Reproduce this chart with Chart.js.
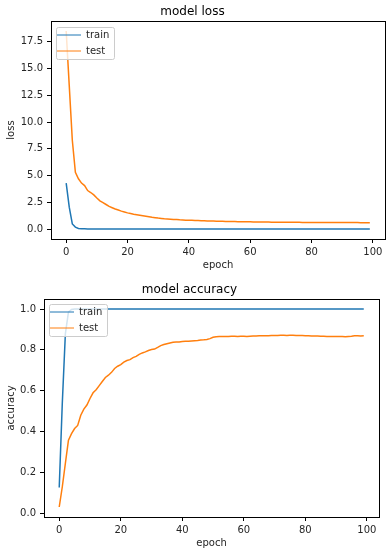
<!DOCTYPE html>
<html>
<head>
<meta charset="utf-8">
<script src="https://cdn.jsdelivr.net/npm/chart.js@4.4.1/dist/chart.umd.min.js"></script>
<style>
  html, body { margin: 0; padding: 0; background: #fff; }
  #wrap { position: relative; width: 386px; height: 554px; }
  canvas { position: absolute; left: 0; }
</style>
</head>
<body>
<div id="wrap">
  <canvas id="loss-chart" width="386" height="277" style="top:0"></canvas>
  <canvas id="acc-chart" width="386" height="277" style="top:277px"></canvas>
</div>
<script>
// epoch index 0..99
const epochs = Array.from({ length: 100 }, (_, i) => i);

const trainLoss = [
    4.3, 2.05, 0.49, 0.19, 0.07, 0.04, 0.03, 0.025, 0.02, 0.02,
    0.018, 0.016, 0.015, 0.014, 0.013, 0.012, 0.012, 0.011, 0.011, 0.01,
    0.01, 0.01, 0.01, 0.01, 0.01, 0.01, 0.01, 0.01, 0.01, 0.01,
    0.01, 0.01, 0.01, 0.01, 0.01, 0.01, 0.01, 0.01, 0.01, 0.01,
    0.01, 0.01, 0.01, 0.01, 0.01, 0.01, 0.01, 0.01, 0.01, 0.01,
    0.01, 0.01, 0.01, 0.01, 0.01, 0.01, 0.01, 0.01, 0.01, 0.01,
    0.01, 0.01, 0.01, 0.01, 0.01, 0.01, 0.01, 0.01, 0.01, 0.01,
    0.01, 0.01, 0.01, 0.01, 0.01, 0.01, 0.01, 0.01, 0.01, 0.01,
    0.01, 0.01, 0.01, 0.01, 0.01, 0.01, 0.01, 0.01, 0.01, 0.01,
    0.01, 0.01, 0.01, 0.01, 0.01, 0.01, 0.01, 0.01, 0.01, 0.01
];
const testLoss = [
    18.5, 13.4, 8.3, 5.3, 4.7, 4.3, 4.07, 3.6, 3.42, 3.2,
    2.9, 2.64, 2.48, 2.3, 2.12, 2.0, 1.88, 1.78, 1.68, 1.6,
    1.52, 1.46, 1.4, 1.35, 1.3, 1.25, 1.2, 1.15, 1.1, 1.07,
    1.03, 1.0, 0.97, 0.95, 0.93, 0.91, 0.89, 0.87, 0.86, 0.84,
    0.83, 0.82, 0.81, 0.8, 0.79, 0.78, 0.77, 0.76, 0.75, 0.745,
    0.74, 0.73, 0.725, 0.72, 0.71, 0.705, 0.7, 0.695, 0.69, 0.685,
    0.68, 0.675, 0.67, 0.67, 0.665, 0.66, 0.66, 0.655, 0.65, 0.65,
    0.645, 0.645, 0.64, 0.64, 0.64, 0.635, 0.635, 0.63, 0.63, 0.63,
    0.625, 0.625, 0.625, 0.62, 0.62, 0.62, 0.62, 0.615, 0.615, 0.615,
    0.615, 0.61, 0.61, 0.61, 0.61, 0.61, 0.605, 0.605, 0.605, 0.605
];
const trainAcc = [
    0.126, 0.54, 0.88, 0.985, 0.998, 1.0, 1.0, 1.0, 1.0, 1.0,
    1.0, 1.0, 1.0, 1.0, 1.0, 1.0, 1.0, 1.0, 1.0, 1.0,
    1.0, 1.0, 1.0, 1.0, 1.0, 1.0, 1.0, 1.0, 1.0, 1.0,
    1.0, 1.0, 1.0, 1.0, 1.0, 1.0, 1.0, 1.0, 1.0, 1.0,
    1.0, 1.0, 1.0, 1.0, 1.0, 1.0, 1.0, 1.0, 1.0, 1.0,
    1.0, 1.0, 1.0, 1.0, 1.0, 1.0, 1.0, 1.0, 1.0, 1.0,
    1.0, 1.0, 1.0, 1.0, 1.0, 1.0, 1.0, 1.0, 1.0, 1.0,
    1.0, 1.0, 1.0, 1.0, 1.0, 1.0, 1.0, 1.0, 1.0, 1.0,
    1.0, 1.0, 1.0, 1.0, 1.0, 1.0, 1.0, 1.0, 1.0, 1.0,
    1.0, 1.0, 1.0, 1.0, 1.0, 1.0, 1.0, 1.0, 1.0, 1.0
];
const testAcc = [
    0.031, 0.13, 0.245, 0.358, 0.39, 0.415, 0.43, 0.48, 0.51, 0.53,
    0.562, 0.59, 0.605, 0.625, 0.645, 0.665, 0.676, 0.69, 0.709, 0.72,
    0.728, 0.74, 0.748, 0.752, 0.762, 0.768, 0.778, 0.785, 0.79, 0.797,
    0.802, 0.804, 0.812, 0.821, 0.826, 0.83, 0.834, 0.837, 0.838, 0.839,
    0.841, 0.842, 0.842, 0.844, 0.845, 0.846, 0.848, 0.849, 0.851, 0.855,
    0.862, 0.864, 0.865, 0.865, 0.866, 0.866, 0.867, 0.867, 0.866, 0.867,
    0.867, 0.866, 0.867, 0.868, 0.868, 0.869, 0.869, 0.869, 0.869, 0.87,
    0.87, 0.87, 0.871, 0.871, 0.87, 0.871, 0.871, 0.87, 0.87, 0.87,
    0.869, 0.869, 0.868, 0.868, 0.868, 0.867, 0.867, 0.866, 0.866, 0.866,
    0.865, 0.865, 0.865, 0.864, 0.866, 0.867, 0.869, 0.869, 0.868, 0.869
];

const epochTicks = [0, 20, 40, 60, 80, 100];
const lossTicks = [0, 2.5, 5, 7.5, 10, 12.5, 15, 17.5];
const accTicks = [0, 0.2, 0.4, 0.6, 0.8, 1.0];

const BLUE = "#1f77b4";
const ORANGE = "#ff7f0e";
const TEXT = "#262626";

Chart.defaults.font.family = "'DejaVu Sans', sans-serif";
Chart.defaults.color = TEXT;

function points(values) {
    return epochs.map((e, i) => ({ x: e, y: values[i] }));
}

const legendFramePlugin = {
    id: "legendFrame",
    // draw the legend after the lines instead of before them
    beforeLayout(chart) {
        const legend = chart.legend;
        if (legend) legend._layers = () => [{ z: 1, draw: () => legend.draw() }];
    },
    // half-transparent legend frame over the lines
    afterDatasetsDraw(chart) {
        const { ctx } = chart;
        const boxes = chart.legend && chart.legend.legendHitBoxes;
        if (!boxes || !boxes.length) return;
        const x0 = Math.round(Math.min(...boxes.map(h => h.left)) - 1) + 0.5;
        const y0 = Math.round(Math.min(...boxes.map(h => h.top)) - 3) + 0.5;
        const x1 = Math.round(Math.max(...boxes.map(h => h.left + h.width)) + 5) + 0.5;
        const y1 = Math.round(Math.max(...boxes.map(h => h.top + h.height)) + 3) + 0.5;
        ctx.save();
        ctx.fillStyle = "rgba(255,255,255,0.8)";
        ctx.strokeStyle = "#cccccc";
        ctx.lineWidth = 1;
        ctx.beginPath();
        ctx.moveTo(x0 + 2, y0);
        ctx.arcTo(x1, y0, x1, y1, 2);
        ctx.arcTo(x1, y1, x0, y1, 2);
        ctx.arcTo(x0, y1, x0, y0, 2);
        ctx.arcTo(x0, y0, x1, y0, 2);
        ctx.closePath();
        ctx.fill();
        ctx.stroke();
        ctx.restore();
    }
};

// empty axis that only draws its border line (top and right spines)
function spineAxis(position, min, max) {
    return {
        type: "linear",
        position: position,
        min: min,
        max: max,
        afterFit: s => {
            if (s.isHorizontal()) s.height = 0; else s.width = 0;
        },
        ticks: { display: false },
        grid: { drawOnChartArea: false, drawTicks: false },
        border: { display: true, color: "#000", width: 1 }
    };
}

function makeChart(id, cfg) {
    return new Chart(document.getElementById(id), {
        type: "line",
        data: {
            datasets: [
                { label: "train", data: points(cfg.train), borderColor: BLUE, backgroundColor: BLUE },
                { label: "test", data: points(cfg.test), borderColor: ORANGE, backgroundColor: ORANGE }
            ]
        },
        options: {
            responsive: false,
            animation: false,
            parsing: false,
            elements: {
                line: { borderWidth: 1.5, tension: 0 },
                point: { radius: 0 }
            },
            layout: { padding: { left: 0, right: cfg.padRight, top: 0, bottom: 0 } },
            plugins: {
                title: {
                    display: true,
                    text: cfg.title,
                    color: "#000",
                    font: { size: 12, weight: "normal" },
                    padding: { top: cfg.titleTop, bottom: 2.3 }
                },
                legend: {
                    position: "chartArea",
                    align: "start",
                    // a vertical legend in the chart area starts at the canvas top,
                    // so an empty title pushes it down below the plot's top edge
                    title: { display: true, text: "", font: { size: cfg.legendShift, lineHeight: 1 }, padding: 0 },
                    labels: {
                        usePointStyle: true,
                        pointStyle: "line",
                        pointStyleWidth: 24,
                        padding: 6,
                        color: TEXT,
                        font: { size: 10 }
                    }
                },
                tooltip: { enabled: false }
            },
            scales: {
                x: {
                    type: "linear",
                    min: -4.95,
                    max: 103.95,
                    afterBuildTicks: s => { s.ticks = epochTicks.map(v => ({ value: v })); },
                    afterFit: s => { s.height = cfg.xHeight; },
                    grid: { drawOnChartArea: false, tickLength: 4, tickColor: "#000" },
                    border: { display: true, color: "#000", width: 1 },
                    ticks: { padding: 3, font: { size: 10 }, maxRotation: 0 },
                    title: { display: true, text: "epoch", font: { size: 10 }, padding: { top: 2, bottom: cfg.xTitleBottom } }
                },
                y: {
                    type: "linear",
                    min: cfg.yMin,
                    max: cfg.yMax,
                    afterBuildTicks: s => { s.ticks = cfg.yTicks.map(v => ({ value: v })); },
                    afterFit: s => { s.width = cfg.yWidth; },
                    grid: { drawOnChartArea: false, tickLength: 4, tickColor: "#000" },
                    border: { display: true, color: "#000", width: 1 },
                    ticks: { padding: 4, font: { size: 10 }, callback: v => Number(v).toFixed(1) },
                    title: { display: true, text: cfg.yLabel, font: { size: 10 }, padding: { top: 5, bottom: 0 } }
                },
                xTop: spineAxis("top", -4.95, 103.95),
                yRight: spineAxis("right", cfg.yMin, cfg.yMax)
            }
        },
        plugins: [legendFramePlugin]
    });
}

makeChart("loss-chart", {
    title: "model loss", yLabel: "loss",
    train: trainLoss, test: testLoss,
    yTicks: lossTicks, yMin: -0.92, yMax: 19.43,
    yWidth: 51, xHeight: 38, padRight: 1, titleTop: 4.3, xTitleBottom: 6, legendShift: 24
});

makeChart("acc-chart", {
    title: "model accuracy", yLabel: "accuracy",
    train: trainAcc, test: testAcc,
    yTicks: accTicks, yMin: -0.018, yMax: 1.049,
    yWidth: 44, xHeight: 37, padRight: 7, titleTop: 5.3, xTitleBottom: 5, legendShift: 24
});
</script>
</body>
</html>
